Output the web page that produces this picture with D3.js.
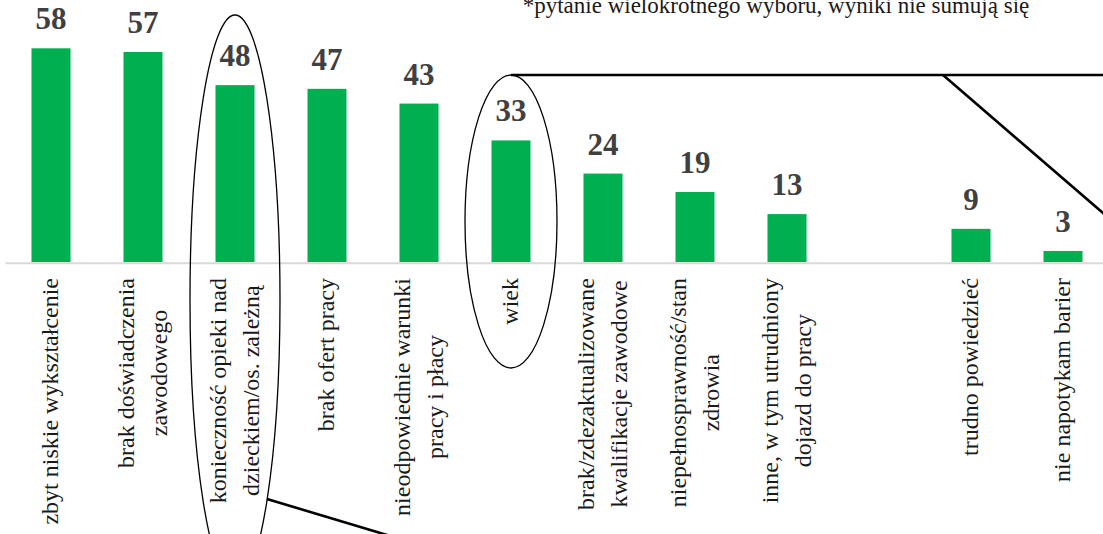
<!DOCTYPE html>
<html>
<head>
<meta charset="utf-8">
<script src="https://cdn.jsdelivr.net/npm/d3@7"></script>
<style>
  body { margin: 0; background: #fff; }
  svg { display: block; overflow: hidden; }
</style>
</head>
<body>
<div id="chart"></div>
<script>
// Categories (line breaks as in the original), one empty slot before "trudno powiedzieć"
const categories = [
  "zbyt niskie wykształcenie",
  "brak doświadczenia\nzawodowego",
  "konieczność opieki nad\ndzieckiem/os. zależną",
  "brak ofert pracy",
  "nieodpowiednie warunki\npracy i płacy",
  "wiek",
  "brak/zdezaktualizowane\nkwalifikacje zawodowe",
  "niepełnosprawność/stan\nzdrowia",
  "inne, w tym utrudniony\ndojazd do pracy",
  "",
  "trudno powiedzieć",
  "nie napotykam barier"
];
const values = [58, 57, 48, 47, 43, 33, 24, 19, 13, null, 9, 3];
const note = "*pytanie wielokrotnego wyboru, wyniki nie sumują się";
// which categories get circled
const circled = [2, 5];

const W = 1103, H = 534;
const baseline = 262;
const serif = "'Liberation Serif', 'Times New Roman', serif";

const svg = d3.select("#chart")
  .append("svg")
  .attr("width", W)
  .attr("height", H);

const x = d3.scaleBand()
  .domain(d3.range(categories.length))
  .range([5, 1109])
  .paddingInner(0.576)
  .paddingOuter(0.288);

const y = d3.scaleLinear()
  .domain([0, 58])
  .range([baseline, 48.3]);

const cx = i => x(i) + x.bandwidth() / 2;

// axis line only
const axis = svg.append("g")
  .attr("transform", `translate(0,${baseline + 0.7})`)
  .call(d3.axisBottom(x).tickSize(0).tickFormat(""));
axis.select(".domain")
  .attr("stroke", "#d9d9d9")
  .attr("stroke-width", 2);

const data = values.map((v, i) => ({ i, v, label: categories[i] })).filter(d => d.v != null);

// bars
svg.selectAll(".bar")
  .data(data)
  .enter().append("rect")
  .attr("class", "bar")
  .attr("x", d => x(d.i))
  .attr("width", x.bandwidth())
  .attr("y", d => y(d.v))
  .attr("height", d => y(0) - y(d.v))
  .attr("fill", "#00b050");

// value labels
svg.selectAll(".val")
  .data(data)
  .enter().append("text")
  .attr("class", "val")
  .attr("x", d => cx(d.i))
  .attr("y", d => y(d.v) - 19)
  .attr("text-anchor", "middle")
  .style("font-family", serif)
  .style("font-weight", "bold")
  .style("font-size", "31px")
  .style("fill", "#404040")
  .text(d => d.v);

// category labels, rotated, longest line ends just under the axis
const lineGap = 33;
categories.forEach((c, i) => {
  if (!c) return;
  const lines = c.split("\n");
  const g = svg.append("g")
    .attr("transform", `translate(${cx(i)},278) rotate(-90)`);
  const texts = lines.map((ln, k) => g.append("text")
    .attr("y", 7 + (k - (lines.length - 1) / 2) * lineGap)
    .attr("text-anchor", "middle")
    .style("font-family", serif)
    .style("font-size", "24px")
    .style("fill", "#1a1a1a")
    .text(ln));
  const maxLen = d3.max(texts, t => t.node().getComputedTextLength());
  texts.forEach(t => t.attr("x", -maxLen / 2));
});

// note at the top (cut at the top edge, as in the original)
svg.append("text")
  .attr("x", 776)
  .attr("y", 13)
  .attr("text-anchor", "middle")
  .style("font-family", serif)
  .style("font-size", "23px")
  .style("fill", "#1a1a1a")
  .text(note);

// annotations: ellipses round two categories and the connector lines
const ann = svg.append("g").attr("fill", "none").attr("stroke", "#000");

ann.append("ellipse")
  .attr("cx", cx(circled[0]))
  .attr("cy", 300)
  .attr("rx", 45)
  .attr("ry", 285)
  .attr("stroke-width", 1.3);

const wiekTop = 75;
ann.append("ellipse")
  .attr("cx", cx(circled[1]))
  .attr("cy", 221.5)
  .attr("rx", 46)
  .attr("ry", 221.5 - wiekTop)
  .attr("stroke-width", 1.3);

ann.append("line")
  .attr("x1", cx(circled[1])).attr("y1", wiekTop)
  .attr("x2", W + 10).attr("y2", wiekTop)
  .attr("stroke-width", 2.6);

ann.append("line")
  .attr("x1", 943).attr("y1", wiekTop)
  .attr("x2", 1113).attr("y2", wiekTop + 170 * 0.8625)
  .attr("stroke-width", 2.6);

ann.append("line")
  .attr("x1", 267).attr("y1", 499)
  .attr("x2", 400).attr("y2", 499 + 133 * 0.3)
  .attr("stroke-width", 2.6);
</script>
</body>
</html>
